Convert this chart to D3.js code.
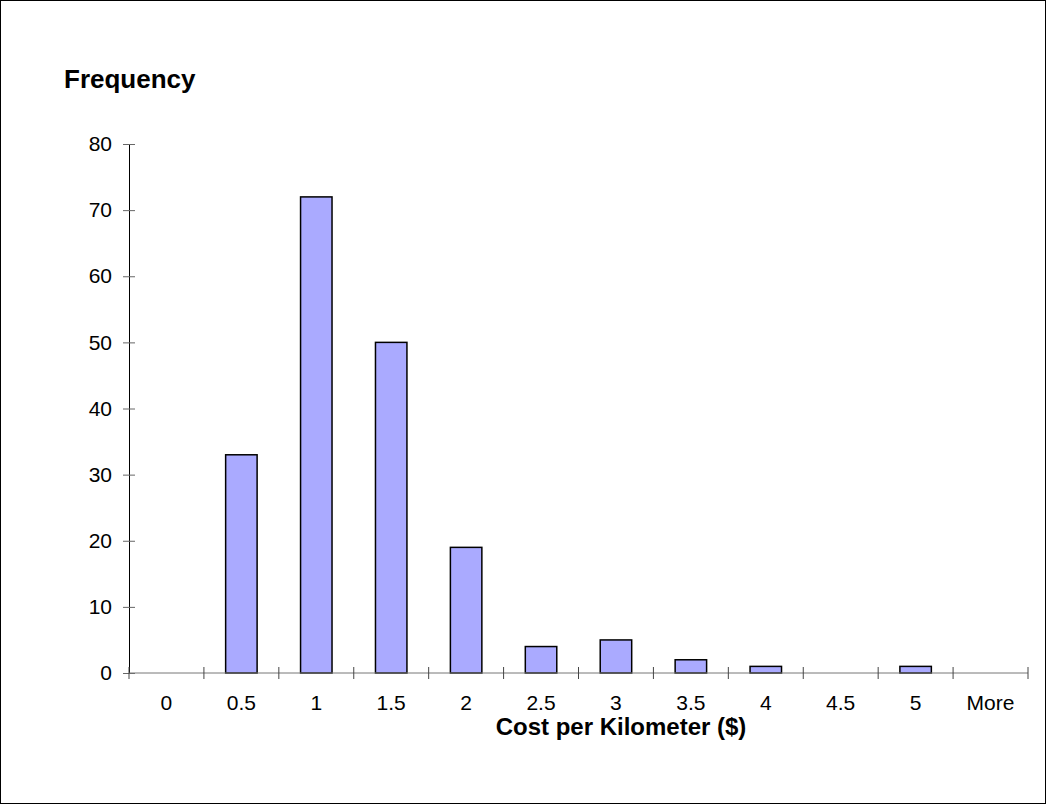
<!DOCTYPE html>
<html>
<head>
<meta charset="utf-8">
<script src="https://cdn.jsdelivr.net/npm/d3@7"></script>
<style>
  body { margin: 0; background: #fff; }
  text { font-family: "Liberation Sans", Arial, sans-serif; }
</style>
</head>
<body>
<div id="chart"></div>
<script>
var bins = ["0", "0.5", "1", "1.5", "2", "2.5", "3", "3.5", "4", "4.5", "5", "More"];
var counts = [0, 33, 72, 50, 19, 4, 5, 2, 1, 0, 1, 0];
var yTicks = [0, 10, 20, 30, 40, 50, 60, 70, 80];

var W = 1046, H = 804;
var margin = {top: 144, right: 18, bottom: 131, left: 129},
    width = W - margin.left - margin.right,
    height = H - margin.top - margin.bottom;

var root = d3.select("#chart")
    .append("svg")
    .attr("width", W)
    .attr("height", H);

root.append("rect")
    .attr("x", 0.5).attr("y", 0.5)
    .attr("width", W - 1).attr("height", H - 1)
    .attr("fill", "#fff")
    .attr("stroke", "#000");

var svg = root.append("g")
    .attr("transform", "translate(" + margin.left + "," + margin.top + ")");

var x = d3.scaleBand()
    .domain(bins)
    .range([0, width]);

var y = d3.scaleLinear()
    .domain([0, 80])
    .range([height, 0]);

var data = bins.map(function(b, i) { return {bin: b, n: counts[i]}; })
    .filter(function(d) { return d.n > 0; });

// bars
svg.selectAll("rect.bar")
    .data(data)
    .enter()
    .append("rect")
    .attr("class", "bar")
    .attr("x", function(d) { return x(d.bin) + x.bandwidth() * 0.29; })
    .attr("width", x.bandwidth() * 0.42)
    .attr("y", function(d) { return y(d.n); })
    .attr("height", function(d) { return height - y(d.n); })
    .attr("fill", "#aaaaff")
    .attr("stroke", "#000")
    .attr("stroke-width", 1.5);

// y axis
var yAxis = svg.append("g")
    .call(d3.axisLeft(y).tickValues(yTicks).tickSize(6).tickSizeOuter(0).tickPadding(11));
yAxis.select(".domain").attr("stroke", "#000");
yAxis.selectAll(".tick line").attr("x2", 6).attr("x1", -6).attr("stroke", "#666");
yAxis.selectAll(".tick text")
    .attr("font-size", 21)
    .attr("font-family", "Liberation Sans, Arial, sans-serif")
    .attr("fill", "#000");

// x axis: tick marks on band edges
var xAxis = svg.append("g")
    .attr("transform", "translate(0," + height + ")");
xAxis.append("line")
    .attr("x1", 0).attr("x2", width)
    .attr("stroke", "#777");
var edges = bins.map(function(b) { return x(b); }).concat([width]);
xAxis.selectAll("line.tk")
    .data(edges)
    .enter()
    .append("line")
    .attr("class", "tk")
    .attr("x1", function(d) { return d; })
    .attr("x2", function(d) { return d; })
    .attr("y1", -6).attr("y2", 6)
    .attr("stroke", "#444");
xAxis.selectAll("text")
    .data(bins)
    .enter()
    .append("text")
    .attr("x", function(d) { return x(d) + x.bandwidth() / 2; })
    .attr("y", 37)
    .attr("text-anchor", "middle")
    .attr("font-size", 21)
    .text(function(d) { return d; });

// titles
root.append("text")
    .attr("x", 64)
    .attr("y", 88)
    .attr("font-size", 26)
    .attr("font-weight", "bold")
    .text("Frequency");

root.append("text")
    .attr("x", 621)
    .attr("y", 735)
    .attr("text-anchor", "middle")
    .attr("font-size", 24)
    .attr("font-weight", "bold")
    .text("Cost per Kilometer ($)");
</script>
</body>
</html>
